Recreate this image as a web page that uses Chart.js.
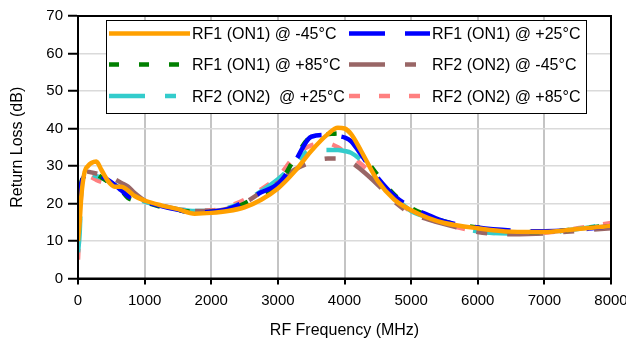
<!DOCTYPE html>
<html>
<head>
<meta charset="utf-8">
<script src="https://cdn.jsdelivr.net/npm/chart.js"></script>
<style>
  body { margin: 0; background: #fff; }
  #wrap { width: 626px; height: 341px; }
</style>
</head>
<body>
<div id="wrap"><canvas id="myChart"></canvas></div>
<script>
const frecuencias = [0, 25, 50, 100, 150, 200, 275, 350, 450, 550, 650, 750, 850, 1000, 1250, 1500, 1750, 2000, 2250, 2500, 2750, 3000, 3250, 3500, 3750, 3900, 4000, 4100, 4250, 4500, 4750, 5000, 5250, 5500, 6000, 6500, 7000, 7500, 8000];

const rf1Menos45 = [10, 15, 22, 28.5, 30, 30.8, 31.2, 29, 26, 24.5, 24.5, 23.5, 22, 20.8, 19.5, 18.5, 17.3, 17.5, 18, 19, 21, 24, 28.5, 34, 38.5, 40.2, 40, 38.5, 34, 26, 21, 18.2, 16.2, 14.8, 13.4, 12.5, 12.4, 13.2, 14];
const rf1Mas25 = [18, 22.5, 25.5, 27.5, 28.2, 28.5, 28, 27.3, 26.3, 25, 23.5, 22, 21.2, 20.5, 19.3, 18.3, 17.6, 17.8, 18.5, 20.5, 23, 25.2, 31, 37.8, 38.3, 38, 37.6, 36.6, 33, 26.8, 22, 19, 17, 15.2, 13.6, 12.8, 12.6, 13, 14];
const rf1Mas85 = [16, 22, 25.5, 27.5, 28, 28.3, 27.8, 27, 25.8, 24.5, 23.5, 21.5, 20.8, 20.3, 19.1, 18.2, 17.8, 17.8, 18.4, 20, 22.5, 24.5, 32, 37.8, 38.5, 38.7, 38.5, 37, 33.5, 27.5, 22.3, 18.8, 16.8, 15.2, 13.6, 12.6, 12.4, 13.2, 14.2];
const rf2Menos45 = [14, 22, 26, 28, 28.5, 28.3, 28, 27.7, 27.3, 26.5, 25.5, 24.5, 22.8, 20.8, 19.5, 18.5, 18, 18, 18.6, 20.2, 23, 25.5, 29, 31, 32, 32, 31.6, 31, 29, 25, 20.5, 17.3, 15.8, 14.5, 12.4, 11.8, 12, 12.7, 13.4];
const rf2Mas25 = [7, 12, 24, 27.5, 28, 27.8, 27.3, 26.8, 26, 25, 24, 22.5, 21.5, 20.5, 19.3, 18.5, 18, 18, 18.8, 20.6, 23.3, 26.5, 30.5, 34.3, 34.3, 34.3, 34, 33.5, 31.5, 26.2, 21.8, 18, 16.3, 14.8, 12.6, 12, 12.2, 13.2, 14.7];
const rf2Mas85 = [5, 14, 23, 26.8, 27.3, 27, 26.3, 25.8, 25.3, 24.5, 23.8, 22.5, 21.5, 20.5, 19.3, 18.5, 18.2, 18.2, 19.2, 21, 23.8, 27, 32.5, 35.5, 36, 35, 33.8, 32.8, 30.5, 26.5, 21.5, 17.8, 16, 14.5, 12.6, 12, 12.2, 13.4, 14.8];

const etiquetas = ['RF1 (ON1) @ -45°C', 'RF1 (ON1) @ +25°C', 'RF1 (ON1) @ +85°C', 'RF2 (ON2) @ -45°C', 'RF2 (ON2)  @ +25°C', 'RF2 (ON2) @ +85°C'];

const fuente = 'Liberation Sans, Arial, sans-serif';

function puntos(valores) {
    return frecuencias.map((f, i) => ({ x: f, y: valores[i] }));
}

// leyenda dibujada dentro del area del grafico, con borde
const leyendaPlugin = {
    id: 'leyenda',
    afterDraw(chart) {
        const ctx = chart.ctx;
        const area = chart.chartArea;
        ctx.save();
        // borde del area del grafico
        ctx.strokeStyle = '#000';
        ctx.lineWidth = 2;
        ctx.strokeRect(area.left, area.top, area.right - area.left, area.bottom - area.top);

        ctx.fillStyle = '#fff';
        ctx.fillRect(106.5, 20.5, 480, 93);
        ctx.strokeStyle = '#000';
        ctx.lineWidth = 1;
        ctx.strokeRect(106.5, 20.5, 480, 93);

        const filas = [33.5, 64.5, 96];
        const columnas = [109, 349];
        chart.data.datasets.forEach((ds, i) => {
            const y = filas[Math.floor(i / 2)];
            const x = columnas[i % 2];
            ctx.beginPath();
            ctx.strokeStyle = ds.borderColor;
            ctx.lineWidth = ds.borderWidth;
            ctx.setLineDash(ds.borderDash || []);
            ctx.moveTo(x, y);
            ctx.lineTo(x + 81, y);
            ctx.stroke();
            ctx.setLineDash([]);
            ctx.fillStyle = '#000';
            ctx.font = '16px ' + fuente;
            ctx.textBaseline = 'middle';
            ctx.fillText(ds.label, x + 83, y + 1.5);
        });
        ctx.restore();
    }
};

function muestroGrafico() {
    const ctx1 = document.querySelector('#myChart').getContext('2d');

    const comun = { fill: false, pointRadius: 0, borderWidth: 4.5, cubicInterpolationMode: 'monotone' };

    new Chart(ctx1, {
        type: 'line',
        data: {
            datasets: [
                { ...comun, label: etiquetas[0], data: puntos(rf1Menos45), borderColor: 'rgb(255,160,0)' },
                { ...comun, label: etiquetas[1], data: puntos(rf1Mas25), borderColor: 'rgb(0,0,255)', borderDash: [36, 20] },
                { ...comun, label: etiquetas[2], data: puntos(rf1Mas85), borderColor: 'rgb(0,128,0)', borderDash: [10, 20] },
                { ...comun, label: etiquetas[3], data: puntos(rf2Menos45), borderColor: 'rgb(153,102,102)', borderDash: [36, 20, 11, 20] },
                { ...comun, label: etiquetas[4], data: puntos(rf2Mas25), borderColor: 'rgb(51,204,204)', borderDash: [36, 20, 11, 20] },
                { ...comun, label: etiquetas[5], data: puntos(rf2Mas85), borderColor: 'rgb(255,128,128)', borderDash: [11, 19] }
            ]
        },
        options: {
            responsive: true,
            maintainAspectRatio: false,
            animation: false,
            layout: { padding: { top: 16, right: 15 } },
            plugins: { legend: { display: false }, tooltip: { enabled: false } },
            scales: {
                x: {
                    type: 'linear',
                    min: 0,
                    max: 8000,
                    ticks: { stepSize: 1000, color: '#000', font: { family: fuente, size: 15 }, padding: 7, maxRotation: 0, callback: v => String(v) },
                    grid: { color: '#c4c4c4', lineWidth: 2, tickColor: '#000', tickLength: 6, tickWidth: 2 },
                    border: { color: '#000', width: 2 },
                    title: { display: true, text: 'RF Frequency (MHz)', color: '#000', font: { family: fuente, size: 16 }, padding: { top: 4, bottom: 1 } },
                    afterFit(scale) {
                        scale.height = 62.5;
                        scale.paddingLeft = 0;
                        scale.paddingRight = 0;
                    }
                },
                y: {
                    min: 0,
                    max: 70,
                    ticks: { stepSize: 10, color: '#000', font: { family: fuente, size: 15 }, padding: 5 },
                    grid: { color: '#dadada', lineWidth: 1.5, tickColor: '#000', tickLength: 10, tickWidth: 2 },
                    border: { color: '#000', width: 2 },
                    title: { display: true, text: 'Return Loss (dB)', color: '#000', font: { family: fuente, size: 16 }, padding: { top: 8, bottom: 0 } },
                    afterFit(scale) { scale.width = 78; }
                }
            }
        },
        plugins: [leyendaPlugin]
    });
}

muestroGrafico();
</script>
</body>
</html>
